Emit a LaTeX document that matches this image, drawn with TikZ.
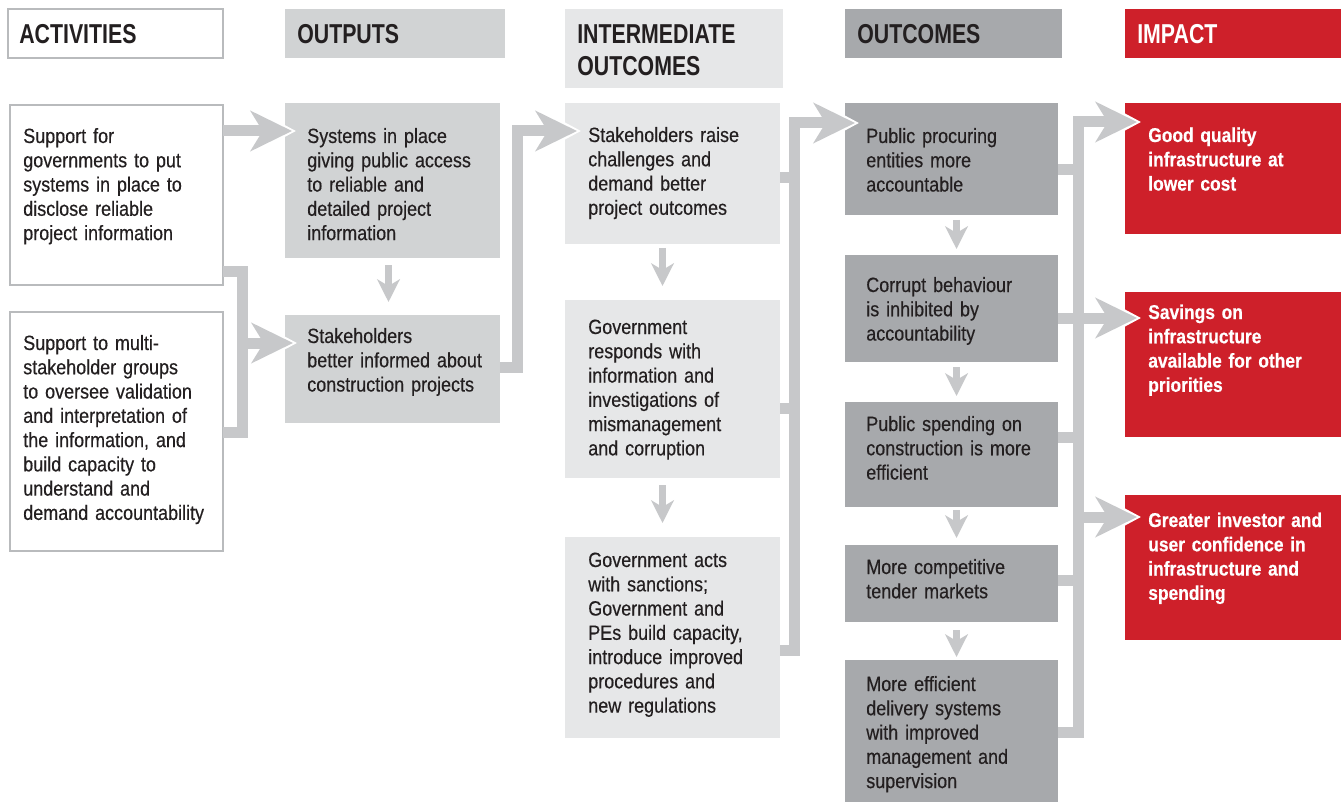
\documentclass[tikz,border=0pt]{standalone}
\usepackage{fontspec}
\setmainfont{Liberation Sans}
\newfontfamily\bodyfont{Liberation Sans}[FakeStretch=0.87,FakeBold=0.4]
\newfontfamily\headfont{Liberation Sans}[FakeStretch=0.78]
\usetikzlibrary{arrows.meta,calc}
\definecolor{outg}{RGB}{209,211,212}
\definecolor{intg}{RGB}{230,231,232}
\definecolor{outcg}{RGB}{167,169,172}
\definecolor{impr}{RGB}{206,32,42}
\definecolor{conng}{RGB}{199,200,202}
\definecolor{bordg}{RGB}{185,187,189}
\definecolor{txtc}{RGB}{35,31,32}
\newcommand\mkbox[6]{\node[#1, anchor=north west, inner sep=0pt, outer sep=0pt,
  minimum width={(#5-#3)*0.75pt}, minimum height={(#6-#4)*0.75pt}] (#2) at (#3,#4) {};}
\begin{document}
\begin{tikzpicture}[x=0.75pt,y=-0.75pt,
  actbox/.style={draw=bordg, line width=1.5pt, fill=white},
  outbox/.style={fill=outg},
  intbox/.style={fill=intg},
  ocbox/.style={fill=outcg},
  impbox/.style={fill=impr},
  body/.style={anchor=base west, inner sep=0pt, text width=220pt, align=left,
    font=\bodyfont\fontsize{15.5pt}{18.2pt}\selectfont, text=txtc},
  wbody/.style={body, font=\bodyfont\bfseries\fontsize{15pt}{18.2pt}\selectfont, text=white},
  head/.style={anchor=base west, inner sep=0pt, text width=200pt, align=left,
    font=\headfont\bfseries\fontsize{20.5pt}{24pt}\selectfont, text=txtc},
  conn/.style={draw=conng, line width=8.25pt, line join=miter},
  bigarrow/.style={conn, -{Stealth[length=31pt,width=30pt,inset=9pt]},
    preaction={draw=white, line width=8.25pt, shorten >=-3pt,
      -{Stealth[length=35pt,width=37pt,inset=10pt]}}},
  smallarrow/.style={draw=conng, line width=5.25pt, -{Stealth[length=17pt,width=17pt,inset=5pt]}}
]
\useasboundingbox (0,0) rectangle (1341,802);
% headers
\mkbox{actbox}{hA}{8}{9}{223}{58}
\mkbox{outbox}{hO}{285}{9}{505}{58}
\mkbox{intbox}{hI}{565}{9}{783}{88}
\mkbox{ocbox}{hC}{845}{9}{1062}{58}
\mkbox{impbox}{hP}{1125}{9}{1341}{58}
\node[head] (tA) at (19,44) {ACTIVITIES};
\node[head] (tO) at (297,44) {OUTPUTS};
\node[head] (tI) at (577,44) {INTERMEDIATE\\OUTCOMES};
\node[head] (tC) at (857,44) {OUTCOMES};
\node[head, text=white] (tP) at (1137,44) {IMPACT};
% content boxes
\mkbox{actbox}{A1}{10}{105}{223}{285}
\mkbox{actbox}{A2}{10}{312}{223}{551}
\mkbox{outbox}{O1}{285}{103}{500}{258}
\mkbox{outbox}{O2}{285}{315}{500}{423}
\mkbox{intbox}{I1}{565}{103}{780}{244}
\mkbox{intbox}{I2}{565}{300}{780}{478}
\mkbox{intbox}{I3}{565}{537}{780}{738}
\mkbox{ocbox}{C1}{845}{103}{1058}{215}
\mkbox{ocbox}{C2}{845}{255}{1058}{362}
\mkbox{ocbox}{C3}{845}{402}{1058}{507}
\mkbox{ocbox}{C4}{845}{545}{1058}{622}
\mkbox{ocbox}{C5}{845}{660}{1058}{802}
\mkbox{impbox}{P1}{1125}{103}{1341}{234}
\mkbox{impbox}{P2}{1125}{292}{1341}{437}
\mkbox{impbox}{P3}{1125}{495}{1341}{640}
% texts
\node[body] (xA1) at (23,143) {Support for\\governments to put\\systems in place to\\disclose reliable\\project information};
\node[body] (xA2) at (23,350) {Support to multi-\\stakeholder groups\\to oversee validation\\and interpretation of\\the information, and\\build capacity to\\understand and\\demand accountability};
\node[body] (xO1) at (307,143) {Systems in place\\giving public access\\to reliable and\\detailed project\\information};
\node[body] (xO2) at (307,343) {Stakeholders\\better informed about\\construction projects};
\node[body] (xI1) at (588,142) {Stakeholders raise\\challenges and\\demand better\\project outcomes};
\node[body] (xI2) at (588,334) {Government\\responds with\\information and\\investigations of\\mismanagement\\and corruption};
\node[body] (xI3) at (588,567) {Government acts\\with sanctions;\\Government and\\PEs build capacity,\\introduce improved\\procedures and\\new regulations};
\node[body] (xC1) at (866,143) {Public procuring\\entities more\\accountable};
\node[body] (xC2) at (866,292) {Corrupt behaviour\\is inhibited by\\accountability};
\node[body] (xC3) at (866,431) {Public spending on\\construction is more\\efficient};
\node[body] (xC4) at (866,574) {More competitive\\tender markets};
\node[body] (xC5) at (866,691) {More efficient\\delivery systems\\with improved\\management and\\supervision};
\node[wbody] (xP1) at (1148,142) {Good quality\\infrastructure at\\lower cost};
\node[wbody] (xP2) at (1148,319) {Savings on\\infrastructure\\available for other\\priorities};
\node[wbody] (xP3) at (1148,527) {Greater investor and\\user confidence in\\infrastructure and\\spending};
% bus coordinates
\coordinate (bA) at (242,343);
\coordinate (bO) at (517,131);
\coordinate (bI) at (794,123);
\coordinate (bC) at (1078,122);
\coordinate (bC3) at (1078,517);
% activities -> outputs
\draw[conn] ($(A1.south east)+(0,-14)$) -| (bA) |- ($(A2.north east)+(0,120)$);
\draw[bigarrow] ($(A1.north east)+(0,26)$) -- ($(O1.north west)+(7,28)$);
\draw[bigarrow] (bA) -- ($(O2.north west)+(8,28)$);
% outputs
\draw[smallarrow] ($(O1.south)+(-4,7)$) -- ($(O2.north)+(-4,-13)$);
\draw[bigarrow] ($(O2.north east)+(0,52)$) -| (bO) -- ($(I1.north west)+(12,28)$);
% intermediate
\draw[smallarrow] ($(I1.south)+(-10,4)$) -- ($(I2.north)+(-10,-14)$);
\draw[smallarrow] ($(I2.south)+(-10,7)$) -- ($(I3.north)+(-10,-14)$);
\draw[conn] ($(I1.north east)+(0,75)$) -- +(16,0);
\draw[conn] ($(I2.north east)+(0,108)$) -- +(16,0);
\draw[bigarrow] ($(I3.north east)+(0,113)$) -| (bI) -- ($(C1.north west)+(10,20)$);
% outcomes
\draw[smallarrow] ($(C1.south)+(5,5)$) -- ($(C2.north)+(5,-6)$);
\draw[smallarrow] ($(C2.south)+(5,5)$) -- ($(C3.north)+(5,-6)$);
\draw[smallarrow] ($(C3.south)+(5,3)$) -- ($(C4.north)+(5,-7)$);
\draw[smallarrow] ($(C4.south)+(5,8)$) -- ($(C5.north)+(5,-3)$);
\draw[conn] ($(C1.north east)+(0,67)$) -- +(24,0);
\draw[conn] ($(C3.north east)+(0,35)$) -- +(24,0);
\draw[conn] ($(C4.north east)+(0,35)$) -- +(24,0);
\draw[bigarrow] ($(C5.north east)+(0,72)$) -| (bC) -- ($(P1.north west)+(12,19)$);
\draw[bigarrow] ($(C2.north east)+(0,63)$) -- ($(P2.north west)+(12,26)$);
\draw[bigarrow] (bC3) -- ($(P3.north west)+(12,22)$);
\end{tikzpicture}
\end{document}
